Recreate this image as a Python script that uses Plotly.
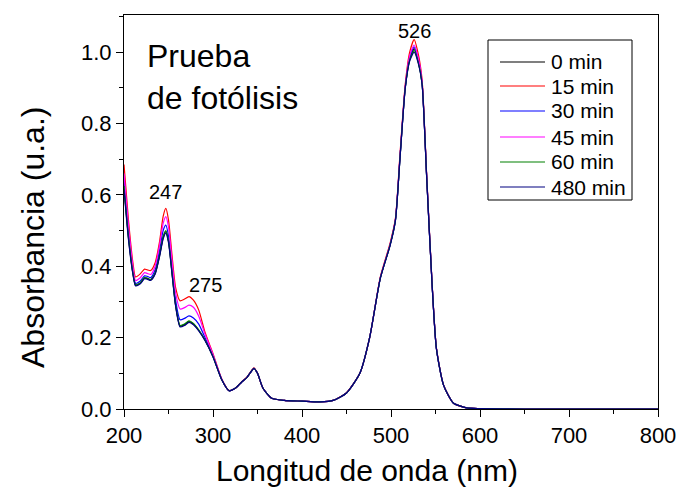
import plotly.graph_objects as go

# Wavelength grid (nm)
wavelength = [200, 205, 210, 213, 218, 223, 226, 230, 235, 240, 244, 247, 250, 254, 258,
              263, 268, 273, 278, 284, 291, 300, 310, 318, 325, 332, 338, 342, 346, 350,
              356, 366, 380, 400, 420, 435, 450, 465, 476, 488, 499, 505, 510, 516, 521,
              526, 531, 535, 540, 546, 551, 559, 570, 585, 600, 650, 700, 750, 800]

abs_0 = [0.62, 0.48, 0.38, 0.347, 0.352, 0.367, 0.366, 0.362, 0.38, 0.43, 0.48, 0.497, 0.47, 0.38, 0.29,
         0.232, 0.236, 0.245, 0.238, 0.22, 0.193, 0.147, 0.081, 0.051, 0.058, 0.075, 0.088, 0.102, 0.114, 0.10,
         0.059, 0.03, 0.024, 0.022, 0.02, 0.024, 0.045, 0.10, 0.20, 0.367, 0.46, 0.53, 0.70, 0.90, 0.98,
         1.01, 0.97, 0.91, 0.655, 0.357, 0.17, 0.067, 0.017, 0.003, 0.001, 0.0, 0.0, 0.0, 0.0]
abs_15 = [0.685, 0.53, 0.41, 0.37, 0.378, 0.392, 0.39, 0.388, 0.41, 0.47, 0.54, 0.562, 0.53, 0.43, 0.34,
          0.303, 0.308, 0.315, 0.305, 0.277, 0.215, 0.155, 0.083, 0.052, 0.058, 0.076, 0.089, 0.103, 0.115, 0.10,
          0.059, 0.03, 0.024, 0.022, 0.02, 0.024, 0.046, 0.10, 0.20, 0.37, 0.465, 0.535, 0.71, 0.91, 1.0,
          1.035, 0.99, 0.92, 0.66, 0.36, 0.172, 0.068, 0.017, 0.003, 0.001, 0.0, 0.0, 0.0, 0.0]
abs_30 = [0.64, 0.50, 0.39, 0.352, 0.358, 0.373, 0.372, 0.368, 0.39, 0.445, 0.50, 0.515, 0.485, 0.395, 0.305,
          0.25, 0.254, 0.261, 0.255, 0.238, 0.20, 0.15, 0.082, 0.051, 0.058, 0.075, 0.088, 0.102, 0.114, 0.10,
          0.059, 0.03, 0.024, 0.022, 0.02, 0.024, 0.045, 0.10, 0.20, 0.367, 0.46, 0.53, 0.70, 0.90, 0.985,
          1.015, 0.975, 0.91, 0.655, 0.357, 0.17, 0.067, 0.017, 0.003, 0.001, 0.0, 0.0, 0.0, 0.0]
abs_45 = [0.66, 0.515, 0.40, 0.36, 0.367, 0.382, 0.38, 0.377, 0.40, 0.46, 0.52, 0.539, 0.51, 0.415, 0.325,
          0.28, 0.284, 0.291, 0.285, 0.26, 0.21, 0.153, 0.082, 0.051, 0.058, 0.075, 0.088, 0.102, 0.114, 0.10,
          0.059, 0.03, 0.024, 0.022, 0.02, 0.024, 0.045, 0.10, 0.20, 0.368, 0.462, 0.532, 0.705, 0.905, 0.99,
          1.02, 0.98, 0.915, 0.658, 0.358, 0.171, 0.067, 0.017, 0.003, 0.001, 0.0, 0.0, 0.0, 0.0]
abs_60 = [0.625, 0.485, 0.382, 0.348, 0.353, 0.368, 0.367, 0.363, 0.382, 0.433, 0.484, 0.50, 0.472, 0.382, 0.292,
          0.234, 0.238, 0.247, 0.24, 0.222, 0.194, 0.147, 0.081, 0.051, 0.058, 0.075, 0.088, 0.102, 0.114, 0.10,
          0.059, 0.03, 0.024, 0.022, 0.02, 0.024, 0.045, 0.10, 0.20, 0.367, 0.46, 0.53, 0.70, 0.90, 0.978,
          1.005, 0.968, 0.91, 0.655, 0.357, 0.17, 0.067, 0.017, 0.003, 0.001, 0.0, 0.0, 0.0, 0.0]
abs_480 = [0.615, 0.475, 0.378, 0.345, 0.35, 0.365, 0.364, 0.36, 0.378, 0.428, 0.477, 0.493, 0.466, 0.377, 0.288,
           0.23, 0.234, 0.243, 0.236, 0.219, 0.192, 0.146, 0.081, 0.051, 0.058, 0.075, 0.088, 0.102, 0.114, 0.10,
           0.059, 0.03, 0.024, 0.022, 0.02, 0.024, 0.045, 0.10, 0.20, 0.366, 0.458, 0.528, 0.698, 0.898, 0.975,
           1.0, 0.965, 0.908, 0.653, 0.356, 0.17, 0.067, 0.017, 0.003, 0.001, 0.0, 0.0, 0.0, 0.0]

series_names = ["0 min", "15 min", "30 min", "45 min", "60 min", "480 min"]
series_values = [abs_0, abs_15, abs_30, abs_45, abs_60, abs_480]
series_colors = ["#000000", "#FF0000", "#0000FF", "#FF00FF", "#008000", "#000080"]

peak_labels = ["526", "247", "275"]

FONT = "Liberation Sans, Arial, sans-serif"

# plot-area pixel frame used to place overlay items
L, R, T, B = 124, 658, 15, 409


def px(x):
    return (x - L) / (R - L)


def py(y):
    return (B - y) / (B - T)


fig = go.Figure()
for name, vals, col in zip(series_names, series_values, series_colors):
    fig.add_trace(go.Scatter(x=wavelength, y=vals, mode="lines", name=name, showlegend=False,
                             line=dict(color=col, width=1.2, shape="spline", smoothing=0.6)))

axis_common = dict(showline=True, linecolor="black", linewidth=1, mirror=True,
                   ticks="outside", tickcolor="black", ticklen=7, tickwidth=1,
                   showgrid=False, zeroline=False, automargin=False,
                   tickfont=dict(family=FONT, size=22, color="black"))

fig.update_xaxes(range=[200, 800], tick0=200, dtick=100,
                 minor=dict(ticks="outside", ticklen=4, dtick=50, tickcolor="black", tickwidth=1),
                 **axis_common)
fig.update_yaxes(range=[0, 1.104], tick0=0, dtick=0.2, tickformat=".1f",
                 minor=dict(ticks="outside", ticklen=4, dtick=0.1, tickcolor="black", tickwidth=1),
                 **axis_common)

lab_font = dict(family=FONT, size=20, color="black")
annotations = [
    dict(x=526, y=1.058, xref="x", yref="y", text=peak_labels[0], showarrow=False, font=lab_font),
    dict(x=247, y=0.608, xref="x", yref="y", text=peak_labels[1], showarrow=False, font=lab_font),
    dict(x=292, y=0.347, xref="x", yref="y", text=peak_labels[2], showarrow=False, font=lab_font),
    dict(x=px(145), y=py(36), xref="paper", yref="paper",
         xanchor="left", yanchor="top", align="left",
         text="Prueba<br>de fotólisis", showarrow=False,
         font=dict(family=FONT, size=32, color="black")),
    dict(x=px(367), y=py(470), xref="paper", yref="paper",
         xanchor="center", yanchor="middle", text="Longitud de onda (nm)",
         showarrow=False, font=dict(family=FONT, size=30, color="black")),
    dict(x=px(33), y=py(238), xref="paper", yref="paper",
         xanchor="center", yanchor="middle", text="Absorbancia (u.a.)", textangle=-90,
         showarrow=False, font=dict(family=FONT, size=32, color="black")),
]

# legend box drawn as overlay
shapes = [dict(type="rect", xref="paper", yref="paper",
               x0=px(488), x1=px(632), y0=py(200), y1=py(40),
               line=dict(color="black", width=1), fillcolor="white", layer="above")]
entry_y = [62, 86, 111, 137, 162, 187]
for name, col, yy in zip(series_names, series_colors, entry_y):
    shapes.append(dict(type="line", xref="paper", yref="paper",
                       x0=px(500), x1=px(545), y0=py(yy), y1=py(yy),
                       line=dict(color=col, width=1.2), layer="above"))
    annotations.append(dict(x=px(549), y=py(yy), xref="paper", yref="paper",
                            xanchor="left", yanchor="middle", text=name, showarrow=False,
                            font=dict(family=FONT, size=21, color="black")))

fig.update_layout(
    width=682, height=496,
    margin=dict(l=L, r=682 - R, t=T, b=496 - B, autoexpand=False),
    plot_bgcolor="white", paper_bgcolor="white",
    annotations=annotations,
    shapes=shapes,
    showlegend=False,
)

fig.write_html("out.html")
